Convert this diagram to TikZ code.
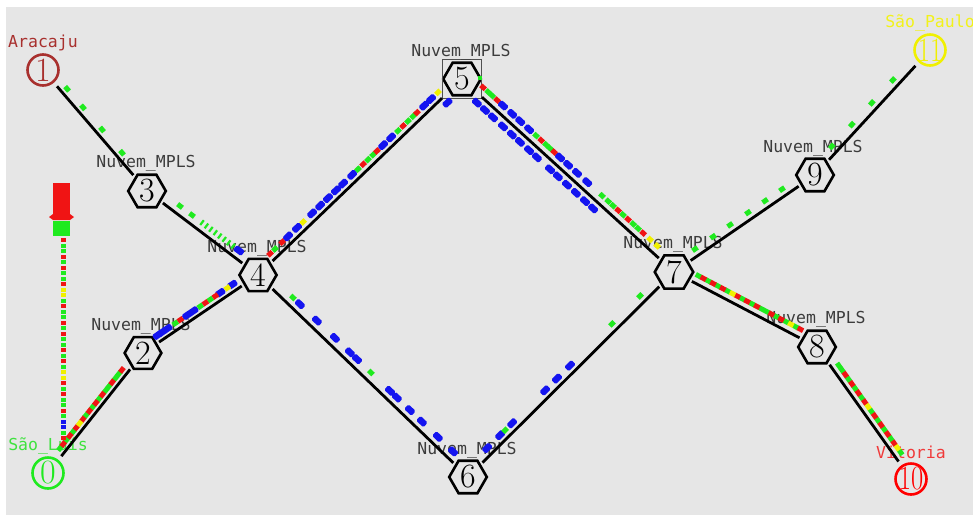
\documentclass[tikz,border=0pt]{standalone}
\usepackage{fontspec}
\usepackage{graphicx}
\newfontfamily\namfont{DejaVu Sans Mono}
\usetikzlibrary{shapes.geometric,calc}

\definecolor{canvas}{HTML}{E6E6E6}
\definecolor{pgreen}{HTML}{1FEA1F}
\definecolor{pred}{HTML}{F01414}
\definecolor{pblue}{HTML}{1414F0}
\definecolor{pyellow}{HTML}{F0F000}
\definecolor{aracaju}{HTML}{A8302E}
\definecolor{luis}{HTML}{3FE23F}
\definecolor{vitoria}{HTML}{F03A3A}
\definecolor{paulo}{HTML}{F2F21A}
\definecolor{cloudtext}{HTML}{3C3C3C}
\definecolor{selbox}{HTML}{505050}

% node number, kept out of the shape size
\newcommand\nid[1]{\makebox[0pt]{#1}}
% a lane of packets running beside the link #1 -> #2, offset #3, style #4, positions #5
\newcommand\lane[5]{%
  \path ($(#1)!#3!90:(#2)$) -- ($(#2)!#3!-90:(#1)$)
    \foreach \t in {#5} { node[#4, pos=\t, sloped] {} };
}

\tikzset{
  hexn/.style={regular polygon, regular polygon sides=6, draw=black, line width=2.6pt,
    minimum size=36pt, inner sep=0pt, outer sep=3.5pt, font=\fontsize{34}{34}\selectfont},
  endn/.style={circle, line width=2.6pt, minimum size=31pt, inner sep=0pt, outer sep=6pt,
    font=\fontsize{34}{34}\selectfont},
  link/.style={line width=2.8pt, black},
  lbl/.style={font=\namfont\fontsize{16.5}{16.5}\selectfont, text=cloudtext, inner sep=0pt},
  pk/.style={rectangle, inner sep=0pt, outer sep=0pt, minimum width=6pt, minimum height=5pt},
  pG/.style={pk, fill=pgreen},
  pR/.style={pk, fill=pred},
  pY/.style={pk, fill=pyellow},
  pB/.style={pk, fill=pblue, minimum width=10pt, minimum height=6.5pt, rounded corners=1.5pt},
  pT/.style={pk, fill=pgreen, minimum width=2.2pt, minimum height=6pt},
}

\begin{document}
\begin{tikzpicture}[x=1pt, y=-1pt]
\useasboundingbox (0,0) rectangle (973,515);
\fill[white] (0,0) rectangle (973,515);
\fill[canvas] (6,7) rectangle (973,515);

% ---- nodes ----
\node[endn, draw=pgreen, text=pgreen] (n0) at (48,473) {\nid{0}};
\node[endn, draw=aracaju, text=aracaju] (n1) at (43,70) {\nid{1}};
\node[hexn] (n2) at (143,353) {\nid{2}};
\node[hexn] (n3) at (147,191) {\nid{3}};
\node[hexn] (n4) at (258,275) {\nid{4}};
\node[hexn] (n5) at (462,79) {\nid{5}};
\node[draw=selbox, line width=1pt, minimum size=39pt, inner sep=0pt] (sel5) at (n5) {};
\node[hexn] (n6) at (468,477) {\nid{6}};
\node[hexn] (n7) at (674,272) {\nid{7}};
\node[hexn] (n8) at (817,347) {\nid{8}};
\node[hexn] (n9) at (815,175) {\nid{9}};
\node[endn, draw=red, text=red] (n10) at (911,479) {\nid{\scalebox{0.78}[1]{10}}};
\node[endn, draw=pyellow, text=pyellow] (n11) at (930,50) {\nid{\scalebox{0.78}[1]{11}}};

% ---- node names ----
\node[lbl, text=luis] (l0) at ($(n0)+(0,-27)$) {São\_Luís};
\node[lbl, text=aracaju] (l1) at ($(n1)+(0,-27)$) {Aracaju};
\node[lbl] (l2) at ($(n2)+(-2,-27)$) {Nuvem\_MPLS};
\node[lbl] (l3) at ($(n3)+(-1,-28)$) {Nuvem\_MPLS};
\node[lbl] (l4) at ($(n4)+(-1,-27)$) {Nuvem\_MPLS};
\node[lbl] (l5) at ($(n5)+(-1,-27)$) {Nuvem\_MPLS};
\node[lbl] (l6) at ($(n6)+(-1,-27)$) {Nuvem\_MPLS};
\node[lbl] (l7) at ($(n7)+(-1,-28)$) {Nuvem\_MPLS};
\node[lbl] (l8) at ($(n8)+(-1,-28)$) {Nuvem\_MPLS};
\node[lbl] (l9) at ($(n9)+(-2,-27)$) {Nuvem\_MPLS};
\node[lbl, text=vitoria] (l10) at ($(n10)+(0,-27)$) {Vitoria};
\node[lbl, text=paulo] (l11) at ($(n11)+(0,-27)$) {São\_Paulo};

% ---- links ----
\draw[link] (n1) -- (n3);
\draw[link] (n3) -- (n4);
\draw[link] (n0) -- (n2);
\draw[link] (n2) -- (n4);
\draw[link] (n4) -- (sel5);
\draw[link] (sel5) -- (n7);
\draw[link] (n4) -- (n6);
\draw[link] (n6) -- (n7);
\draw[link] (n7) -- (n9);
\draw[link] (n9) -- (n11);
\draw[link] (n7) -- (n8);
\draw[link] (n8) -- (n10);

% ---- packets in flight ----
\lane{n1}{n3}{6pt}{pG}{0.188,0.341,0.524,0.716}
\lane{n3}{n4}{8pt}{pG}{0.254,0.362}
\lane{n3}{n4}{8pt}{pT}{0.452,0.492,0.532,0.572,0.612,0.652,0.692,0.732}
\lane{n3}{n4}{8pt}{pB}{0.785}

\lane{n0}{n2}{6pt}{pG}{0.176,0.245,0.313,0.451,0.519,0.588,0.656,0.691,0.759,0.794}
\lane{n0}{n2}{6pt}{pR}{0.210,0.279,0.348,0.416,0.485,0.553,0.622,0.725,0.828}
\lane{n0}{n2}{6pt}{pY}{0.382}

\lane{n2}{n4}{6.5pt}{pB}{0.16,0.20,0.243,0.417,0.470,0.704,0.809}
\lane{n2}{n4}{6.5pt}{pG}{0.313,0.530,0.617}
\lane{n2}{n4}{6.5pt}{pR}{0.357,0.574,0.661}
\lane{n2}{n4}{6.5pt}{pY}{0.765}

\lane{n4}{n5}{7pt}{pB}{0.171,0.215,0.289,0.328,0.367,0.406,0.441,0.485,0.637,0.676,0.838,0.872}
\lane{n4}{n5}{7pt}{pG}{0.107,0.514,0.563,0.588,0.710,0.759,0.784}
\lane{n4}{n5}{7pt}{pR}{0.083,0.142,0.539,0.607,0.735,0.803}
\lane{n4}{n5}{7pt}{pY}{0.245,0.906}
\lane{n4}{n5}{-7pt}{pB}{0.905}

\lane{n5}{n7}{8pt}{pB}{0.168,0.211,0.249,0.291,0.437,0.475,0.517,0.565}
\lane{n5}{n7}{8pt}{pG}{0.098,0.117,0.324,0.371,0.390,0.635,0.664,0.687,0.734,0.782,0.805}
\lane{n5}{n7}{8pt}{pR}{0.074,0.140,0.348,0.409,0.711,0.758,0.829}
\lane{n5}{n7}{8pt}{pY}{0.862,0.895}
\lane{n5}{n7}{-7.5pt}{pB}{0.094,0.132,0.170,0.217,0.259,0.297,0.340,0.377,0.439,0.476,0.519,0.561,0.604,0.642}
\fill[pgreen] (478,76) rectangle (482,80);

\lane{n4}{n6}{8pt}{pG}{0.140,0.511}
\lane{n4}{n6}{8pt}{pB}{0.173,0.254,0.340,0.411,0.445,0.602,0.635,0.697,0.754,0.830,0.902}

\lane{n6}{n7}{7pt}{pB}{0.117,0.180,0.238,0.398,0.456,0.519}
\lane{n6}{n7}{7pt}{pG}{0.204,0.723,0.859}

\lane{n7}{n9}{7pt}{pG}{0.177,0.305,0.426,0.553,0.674,0.794}
\lane{n9}{n11}{7pt}{pG}{0.191,0.365,0.539,0.722}

\lane{n7}{n8}{8pt}{pG}{0.145,0.213,0.281,0.349,0.451,0.519,0.587,0.621,0.689,0.757,0.825}
\lane{n7}{n8}{8pt}{pR}{0.179,0.247,0.315,0.417,0.485,0.553,0.655,0.723,0.858}
\lane{n7}{n8}{8pt}{pY}{0.383,0.791}

\lane{n8}{n10}{7pt}{pG}{0.171,0.206,0.275,0.344,0.413,0.517,0.587,0.656,0.725,0.829}
\lane{n8}{n10}{7pt}{pR}{0.240,0.310,0.379,0.448,0.552,0.621,0.690,0.760}
\lane{n8}{n10}{7pt}{pY}{0.483,0.794}

% ---- queue at São Luís ----
\fill[pred] (53,183) rectangle (70,218);
\fill[pred] (49,217) -- (53,214) -- (70,214) -- (74,217) -- (70,220) -- (53,220) -- cycle;
\fill[pgreen] (53,221) rectangle (70,236);
\foreach \c [count=\i] in {pred,pgreen,pgreen,pred,pgreen,pred,pgreen,pgreen,pred,pyellow,pyellow,pgreen,pred,pgreen,pgreen,pred,pgreen,pred,pgreen,pgreen,pred,pgreen,pred,pgreen,pyellow,pyellow,pred,pgreen,pred,pgreen,pgreen,pred,pgreen,pblue,pblue,pgreen,pred}
  \fill[fill=\c] ($(63,240)+(0,5.5*\i-5.5)+(-2.5,-2)$) rectangle ++(5,4);
\end{tikzpicture}
\end{document}
